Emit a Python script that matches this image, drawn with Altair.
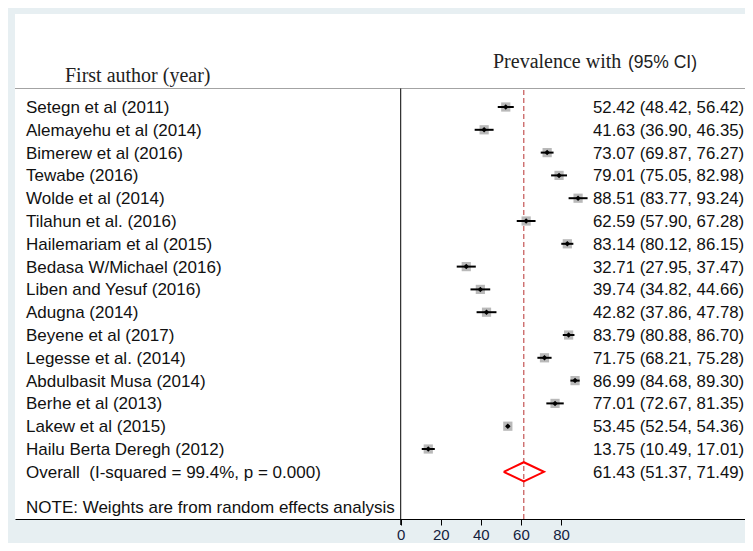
import altair as alt
import pandas as pd

authors = ["Setegn et al (2011)", "Alemayehu et al (2014)", "Bimerew et al (2016)", "Tewabe (2016)",
           "Wolde et al (2014)", "Tilahun et al. (2016)", "Hailemariam et al (2015)", "Bedasa W/Michael (2016)",
           "Liben and Yesuf (2016)", "Adugna (2014)", "Beyene et al (2017)", "Legesse et al. (2014)",
           "Abdulbasit Musa (2014)", "Berhe et al (2013)", "Lakew et al (2015)", "Hailu Berta Deregh (2012)"]
est = [52.42, 41.63, 73.07, 79.01, 88.51, 62.59, 83.14, 32.71, 39.74, 42.82, 83.79, 71.75, 86.99, 77.01, 53.45, 13.75]
lo = [48.42, 36.90, 69.87, 75.05, 83.77, 57.90, 80.12, 27.95, 34.82, 37.86, 80.88, 68.21, 84.68, 72.67, 52.54, 10.49]
hi = [56.42, 46.35, 76.27, 82.98, 93.24, 67.28, 86.15, 37.47, 44.66, 47.78, 86.70, 75.28, 89.30, 81.35, 54.36, 17.01]
overall_label = "Overall\u00a0 (I-squared = 99.4%, p = 0.000)"
overall_est, overall_lo, overall_hi = 61.43, 51.37, 71.49
note = "NOTE: Weights are from random effects analysis"
x_ticks = [0, 20, 40, 60, 80]
header_left = "First author (year)"
header_right_a = "Prevalence with"
header_right_b = "(95% CI)"

n = len(authors)
studies = pd.DataFrame({"row": list(range(n)), "author": authors, "est": est, "lo": lo, "hi": hi})
texts = pd.DataFrame({
    "row": list(range(n + 1)),
    "label": authors + [overall_label],
    "ci": [f"{e:.2f} ({l:.2f}, {h:.2f})" for e, l, h in zip(est + [overall_est], lo + [overall_lo], hi + [overall_hi])],
})
half = 0.42
diamond = pd.DataFrame({
    "x": [overall_lo, overall_est, overall_hi, overall_est, overall_lo],
    "row": [n, n - half, n, n + half, n],
    "k": [0, 1, 2, 3, 4],
})

xs = alt.Scale(domain=[-192.47, 171.8], nice=False, zero=False)
ys = alt.Scale(domain=[-4.079, 18.07], reverse=True, nice=False, zero=False)
ax = alt.Axis(values=x_ticks, title=None, grid=False, format="d")
SANS = "Liberation Sans"
SERIF = "Liberation Serif"

one = pd.DataFrame({"a": [0]})

header_rule = alt.Chart(one).mark_rule(color="#a3a3a3", strokeWidth=1).encode(
    x=alt.value(0), x2=alt.value(730), y=alt.value(74.5))

zero_rule = alt.Chart(pd.DataFrame({"v": [x_ticks[0]]})).mark_rule(color="black", strokeWidth=1).encode(
    x=alt.X("v:Q", scale=xs, axis=ax), y=alt.value(74.5), y2=alt.value(511))

overall_rule = alt.Chart(pd.DataFrame({"v": [overall_est]})).mark_rule(
    color="#b83232", strokeWidth=1, strokeDash=[5, 3]).encode(
    x=alt.X("v:Q", scale=xs, axis=ax), y=alt.value(76), y2=alt.value(505))

boxes = alt.Chart(studies).mark_square(size=85, color="#b9b9b9", opacity=1).encode(
    x=alt.X("est:Q", scale=xs, axis=ax), y=alt.Y("row:Q", scale=ys, axis=None))

ci = alt.Chart(studies).mark_rule(color="black", strokeWidth=2).encode(
    x=alt.X("lo:Q", scale=xs, axis=ax), x2="hi:Q", y=alt.Y("row:Q", scale=ys, axis=None))

pts = alt.Chart(studies).mark_point(shape="diamond", filled=True, size=30, color="black", opacity=1).encode(
    x=alt.X("est:Q", scale=xs, axis=ax), y=alt.Y("row:Q", scale=ys, axis=None))

dia = alt.Chart(diamond).mark_line(color="#ff0000", strokeWidth=2).encode(
    x=alt.X("x:Q", scale=xs, axis=ax), y=alt.Y("row:Q", scale=ys, axis=None), order="k:O")

labels = alt.Chart(texts).mark_text(align="left", baseline="middle", font=SANS, fontSize=17, color="#111111", dy=1).encode(
    x=alt.value(11), y=alt.Y("row:Q", scale=ys, axis=None), text="label:N")

cis = alt.Chart(texts).mark_text(align="left", baseline="middle", font=SANS, fontSize=16.8, color="#111111", dy=1).encode(
    x=alt.value(578), y=alt.Y("row:Q", scale=ys, axis=None), text="ci:N")

note_t = alt.Chart(pd.DataFrame({"t": [note]})).mark_text(
    align="left", baseline="middle", font=SANS, fontSize=17, color="#111111").encode(
    x=alt.value(11), y=alt.value(494), text="t:N")

h1 = alt.Chart(pd.DataFrame({"t": [header_left]})).mark_text(
    align="left", baseline="alphabetic", font=SERIF, fontSize=20, color="#222222").encode(
    x=alt.value(50), y=alt.value(68), text="t:N")
h2 = alt.Chart(pd.DataFrame({"t": [header_right_a]})).mark_text(
    align="left", baseline="alphabetic", font=SERIF, fontSize=20, color="#222222").encode(
    x=alt.value(478), y=alt.value(54), text="t:N")
h3 = alt.Chart(pd.DataFrame({"t": [header_right_b]})).mark_text(
    align="left", baseline="alphabetic", font=SANS, fontSize=17.5, color="#222222").encode(
    x=alt.value(613), y=alt.value(54), text="t:N")

chart = alt.layer(
    header_rule, zero_rule, overall_rule, boxes, ci, pts, dia, labels, cis, note_t, h1, h2, h3
).properties(
    width=730, height=505,
    padding={"left": 7, "top": 6, "right": 0, "bottom": 24},
    autosize=alt.AutoSizeParams(type="none"),
    background="#e7eff2",
).configure_view(
    fill="white", stroke=None
).configure_axisX(
    domainColor="black", domainWidth=1, tickColor="black", tickSize=6, tickWidth=1,
    labelFont=SANS, labelFontSize=15, labelColor="#14213d", labelPadding=2,
)

chart.save("out.html", embed_options={"renderer": "svg", "actions": False})
